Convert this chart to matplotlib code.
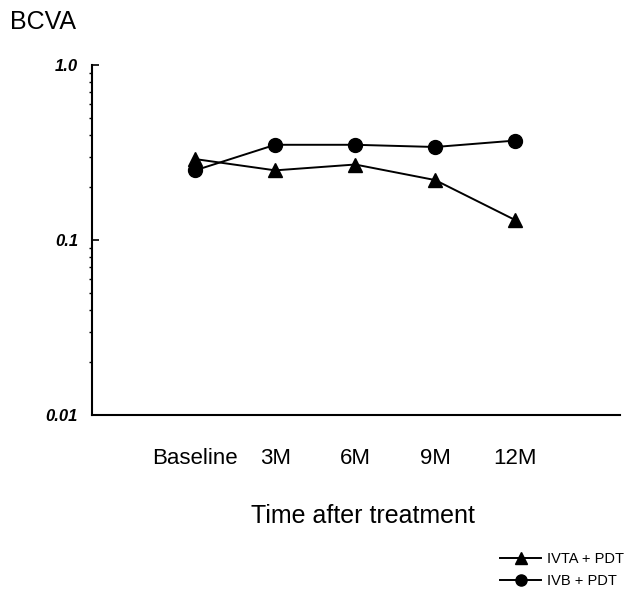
import matplotlib
matplotlib.use("Agg")
import matplotlib.pyplot as plt
from matplotlib.ticker import FixedLocator, LogLocator, NullFormatter

plt.rcParams['font.family'] = ['Liberation Sans', 'DejaVu Sans']

# 데이터
time_labels = ['Baseline', '3M', '6M', '9M', '12M']
ivta_pdt = [0.29, 0.25, 0.27, 0.22, 0.13]
ivb_pdt = [0.25, 0.35, 0.35, 0.34, 0.37]

fig = plt.figure(figsize=(6.37, 5.95), dpi=100)
ax = fig.add_axes([92/637, 1-415/595, (620-92)/637, (415-65)/595])

x = list(range(len(time_labels)))
l1, = ax.plot(x, ivta_pdt, color='black', lw=1.4, marker='^', ms=10, label='IVTA + PDT')
l2, = ax.plot(x, ivb_pdt, color='black', lw=1.4, marker='o', ms=10, label='IVB + PDT')

ax.set_yscale('log')
ax.set_ylim(0.01, 1.0)
ax.set_xlim(-1.29, 5.31)

ax.yaxis.set_major_locator(FixedLocator([0.01, 0.1, 1.0]))
ax.set_yticklabels(['0.01', '0.1', '1.0'], fontsize=12, fontweight='bold', fontstyle='italic')
ax.yaxis.set_minor_locator(LogLocator(base=10, subs=range(2, 10)))
ax.yaxis.set_minor_formatter(NullFormatter())
ax.tick_params(axis='y', which='major', direction='in', length=5, width=1.2, pad=10)
ax.tick_params(axis='y', which='minor', direction='out', length=2, width=1)

ax.set_xticks(x)
ax.set_xticklabels(time_labels, fontsize=16)
ax.tick_params(axis='x', length=0, pad=24)

for s in ['top', 'right']:
    ax.spines[s].set_visible(False)
for s in ['left', 'bottom']:
    ax.spines[s].set_linewidth(1.5)

fig.text(10/637, 1-22/595, 'BCVA', fontsize=18, va='center', ha='left')
fig.text(363/637, 1-516/595, 'Time after treatment', fontsize=18, va='center', ha='center')

fig.legend(handles=[l1, l2], loc='lower right', bbox_to_anchor=(1.0, -0.01),
           frameon=False, fontsize=10.5, handlelength=2.8, handletextpad=0.4,
           labelspacing=0.55, markerscale=0.8)

fig.savefig('out.png', dpi=100)
